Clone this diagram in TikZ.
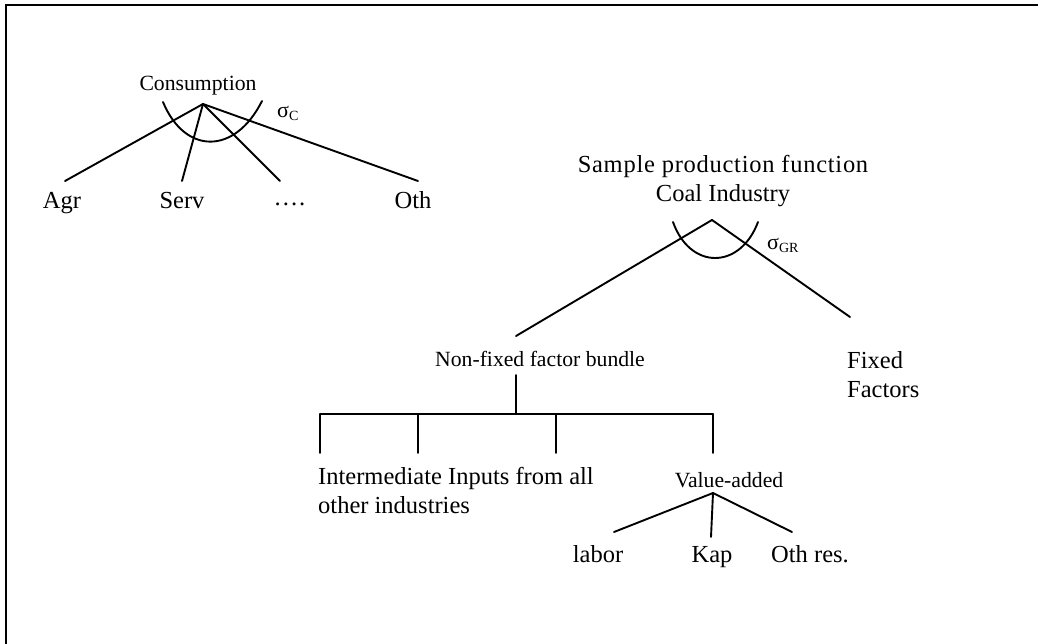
\documentclass[tikz,border=0pt]{standalone}
\usepackage{fontspec}
\setmainfont{Liberation Serif}
\begin{document}
\begin{tikzpicture}[x=1pt,y=-1pt,
  conn/.style={line width=1.9pt,line cap=round},
  frame/.style={line width=1.9pt},
  lab/.style={inner sep=0pt,font=\fontsize{21.7}{26}\selectfont},
  big/.style={inner sep=0pt,font=\fontsize{24.5}{29}\selectfont},
  sig/.style={inner sep=0pt,font=\fontsize{22}{26}\selectfont}]
\useasboundingbox (0,0) rectangle (1038,644);
\draw[frame] (6,644) -- (6,5) -- (1038,5);

% Consumption tree
\node[lab,anchor=base] (cons) at (198,91) {Consumption};
\coordinate (capex) at (203,104);
\node[big,anchor=base] (agr) at (62,209) {Agr};
\node[big,anchor=base] (serv) at (182,209) {Serv};
\node[big,anchor=base] (dots) at (290,213) {····};
\node[big,anchor=base] (oth) at (413,209) {Oth};
\coordinate (agrt) at (65,181);
\coordinate (servt) at (182,181);
\coordinate (dotst) at (280,181);
\coordinate (otht) at (418,181);
\draw[conn] (capex) -- (agrt);
\draw[conn] (capex) -- (servt);
\draw[conn] (capex) -- (dotst);
\draw[conn] (capex) -- (otht);
\draw[conn] (163,102) .. controls (185,155) and (235,155) .. (262,101);
\node[sig,anchor=base west] (sigc) at (277,118) {σ\raisebox{-3pt}{\fontsize{14}{14}\selectfont C}};

% Production tree
\node[big,anchor=base,align=center] (title) at (723,202) {\addfontfeature{LetterSpace=3}Sample production function\\Coal Industry};
\coordinate (papex) at (712,220);
\coordinate (nft) at (516,336);
\coordinate (fft) at (850,317);
\draw[conn] (papex) -- (nft);
\draw[conn] (papex) -- (fft);
\draw[conn] (673,222) .. controls (690,270) and (740,270) .. (758,222);
\node[sig,anchor=base west] (siggr) at (767,250) {σ\raisebox{-3pt}{\fontsize{14}{14}\selectfont GR}};
\node[lab,anchor=base] (nf) at (540,366) {Non-fixed factor bundle};
\node[big,anchor=base west,align=left] (ff) at (847,397) {Fixed\\Factors};

\coordinate (nfb) at (516,375);
\coordinate (bar) at (516,414);
\coordinate (b1) at (320,414);
\coordinate (b2) at (418,414);
\coordinate (b3) at (556,414);
\coordinate (b4) at (713,414);
\coordinate (e1) at (320,453);
\coordinate (e2) at (418,453);
\coordinate (e3) at (556,453);
\coordinate (e4) at (713,453);
\draw[conn] (nfb) -- (bar);
\draw[conn] (b1) -- (b4);
\draw[conn] (b1) -- (e1);
\draw[conn] (b2) -- (e2);
\draw[conn] (b3) -- (e3);
\draw[conn] (b4) -- (e4);

\node[big,anchor=base west,align=left] (inter) at (318,513) {Intermediate Inputs from all\\other industries};
\node[lab,anchor=base] (va) at (729,487) {Value-added};
\coordinate (vaapex) at (713,493);
\node[big,anchor=base] (labor) at (598,562) {labor};
\node[big,anchor=base] (kap) at (712,562) {Kap};
\node[big,anchor=base] (othres) at (810,562) {Oth res.};
\coordinate (labt) at (614,532);
\coordinate (kapt) at (711,537);
\coordinate (otht2) at (792,532);
\draw[conn] (vaapex) -- (labt);
\draw[conn] (vaapex) -- (kapt);
\draw[conn] (vaapex) -- (otht2);
\end{tikzpicture}
\end{document}
